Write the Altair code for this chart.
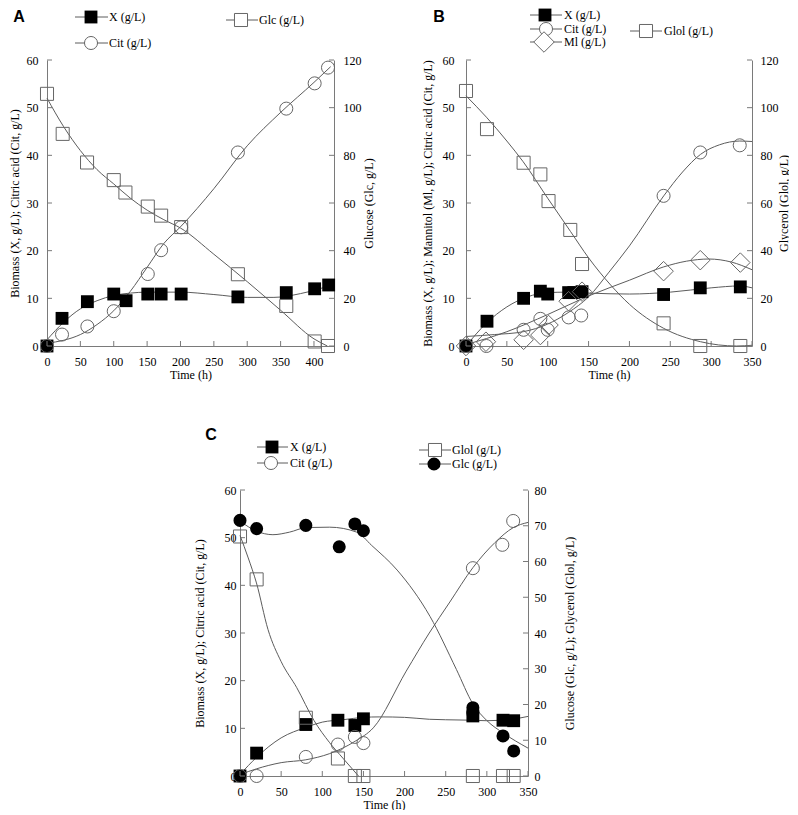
import altair as alt
import pandas as pd

# ---------------- data ----------------
# Panel A (glucose)
A_X_t = [0, 22.5, 60.5, 100, 118.5, 151, 171, 201, 286, 358.5, 401, 422]
A_X_v = [0, 5.8, 9.3, 10.9, 9.5, 10.9, 10.9, 10.9, 10.3, 11.2, 12.0, 12.8]
A_Cit_t = [0, 22.5, 60.5, 100, 151, 171, 201, 286, 358.5, 401, 421]
A_Cit_v = [0, 2.4, 4.1, 7.3, 15.1, 20.1, 24.9, 40.6, 49.8, 55.1, 58.4]
A_Glc_t = [0, 23.5, 60, 100, 117.5, 151, 171, 201, 286, 358.5, 401, 421]
A_Glc_v = [105.8, 89, 77, 69.6, 64.4, 58.5, 54.7, 49.9, 30.1, 16.8, 1.9, 0]
A_Xfit_t = [0, 25, 50, 75, 100, 125, 150, 200, 250, 300, 340, 380, 425]
A_Xfit_v = [1.3, 5, 7.8, 9.5, 10.6, 11.1, 11.3, 11.3, 10.8, 10.2, 10.2, 11, 12.7]
A_Citfit_t = [0, 25, 50, 75, 100, 125, 150, 175, 200, 250, 300, 350, 400, 425]
A_Citfit_v = [0.6, 1.2, 2.4, 4.5, 7.4, 11.5, 16.5, 21.5, 25, 33, 42, 49, 55.3, 58.6]
A_Glcfit_t = [0, 25, 50, 75, 100, 125, 150, 175, 200, 250, 300, 350, 400, 420]
A_Glcfit_v = [104, 92, 82, 74, 68, 62, 57, 53, 49.5, 38.5, 27, 15, 3, 0]

# Panel B (glycerol)
B_X_t = [0, 25.7, 70.5, 91, 100, 125.6, 132, 142, 241.8, 286.7, 335.7]
B_X_v = [0, 5.2, 10.0, 11.5, 10.9, 11.2, 11.2, 11.4, 10.8, 12.2, 12.4]
B_Cit_t = [0, 25, 70.5, 91, 100, 125.6, 141, 241.8, 286.7, 335]
B_Cit_v = [0, 0, 3.4, 5.7, 3.4, 6.0, 6.4, 31.5, 40.6, 42.1]
B_Ml_t = [0, 24.4, 70.5, 91, 101, 125.6, 142, 241.8, 286.7, 335.7]
B_Ml_v = [0, 0.9, 1.3, 2.3, 4.4, 9.4, 11.4, 15.7, 18.0, 17.5]
B_Glol_t = [0, 25.7, 70.5, 91, 101, 127.6, 142, 241.8, 286.7, 335.7]
B_Glol_v = [107, 91, 76.9, 72, 60.8, 48.7, 34.4, 9.5, 0, 0]
B_Xfit_t = [0, 25, 50, 75, 100, 125, 150, 200, 250, 300, 335, 350]
B_Xfit_v = [0, 4.8, 8.2, 10.3, 11.2, 11.3, 11.1, 10.9, 11.3, 12.2, 12.6, 12.2]
B_Citfit_t = [0, 35, 70, 100, 125, 150, 175, 200, 242, 265, 287, 310, 335, 350]
B_Citfit_v = [2.0, 2.4, 3.0, 4.6, 7.0, 10.3, 15.5, 21, 31.5, 36.5, 40.2, 42.2, 43, 42.9]
B_Mlfit_t = [0, 50, 100, 150, 200, 242, 270, 297, 325, 350]
B_Mlfit_v = [0.3, 3, 6.6, 10.5, 13.8, 16.6, 17.8, 18.25, 17.6, 16.0]
B_Glolfit_t = [0, 25, 50, 70, 100, 128, 150, 177, 200, 242, 287, 331, 350]
B_Glolfit_v = [105, 96, 86, 77.3, 62, 48, 37, 25.6, 17.5, 7.4, 1.8, 0, 0.3]

# Panel C (glucose + glycerol)
C_X_t = [0, 20.2, 80, 119, 139.6, 150, 283, 319.6, 332.6]
C_X_v = [0, 4.8, 10.8, 11.7, 10.6, 12.0, 12.6, 11.7, 11.6]
C_Cit_t = [0, 20.2, 80, 119, 139.6, 150, 283, 318.8, 332]
C_Cit_v = [0, 0, 4.0, 6.6, 8.2, 6.9, 43.6, 48.5, 53.5]
C_Glol_t = [0, 20.2, 80, 119, 139.6, 150, 283, 319.6, 332.6]
C_Glol_v = [67, 55, 16.3, 4.9, 0, 0, 0, 0, 0]
C_Glc_t = [0, 20.2, 80, 120.6, 139.6, 150, 283, 283, 319.6, 332.6]
C_Glc_v = [71.5, 69.2, 70.1, 64.1, 70.5, 68.6, 19.1, 17.6, 11.2, 7.0]
C_Xfit_t = [0, 20, 50, 80, 100, 125, 150, 170, 200, 230, 250, 283, 300, 330, 350]
C_Xfit_v = [0.3, 3.9, 8.0, 10.2, 11.3, 11.8, 12.3, 12.4, 12.3, 11.9, 11.8, 11.7, 11.6, 11.9, 12.5]
C_Citfit_t = [0, 20, 50, 80, 109, 140, 162, 202, 230, 255, 283, 310, 332, 350]
C_Citfit_v = [0.3, 1.5, 2.8, 3.4, 4.7, 7.3, 10.1, 22, 30, 36.5, 43.7, 49, 52.1, 53.2]
C_Glolfit_t = [0, 10, 20, 34, 50, 69, 90, 109, 125, 144]
C_Glolfit_v = [67.3, 61, 54, 41, 32, 24.7, 15.5, 9.3, 5, 0]
C_Glcfit_t = [0, 20, 40, 60, 81, 109, 142, 160, 191, 231, 263, 283, 300, 320, 350]
C_Glcfit_v = [71.3, 68.5, 67.5, 68.2, 69.5, 69.6, 68.2, 64.5, 57.6, 44.6, 29.8, 20.2, 15.5, 12, 7.8]

# axis ticks
A_x_ticks = [0, 50, 100, 150, 200, 250, 300, 350, 400]
BC_x_ticks = [0, 50, 100, 150, 200, 250, 300, 350]
left_ticks = [0, 10, 20, 30, 40, 50, 60]
AB_right_ticks = [0, 20, 40, 60, 80, 100, 120]
C_right_ticks = [0, 10, 20, 30, 40, 50, 60, 70, 80]

SERIF = "Liberation Serif"
LINE = "#5c5c5c"
AXIS = "#7a7a7a"
MK = "#666666"
H = 286


def df(t, v):
    return pd.DataFrame({"t": t, "v": v})


def one():
    return pd.DataFrame({"a": [0]})


def make_panel(width, xdom, xvals, rdom, rvals, ltitle, rtitle,
               lpad, ltpad, rpad, rtpad, left_series, right_series,
               legend, label, label_xy):
    xs = alt.Scale(domain=xdom, nice=False, zero=False)
    xax = alt.Axis(values=xvals, title="Time (h)", labelFlush=False, labelPadding=10,
                   titlePadding=2, labelOverlap=False)
    ls = alt.Scale(domain=[0, 60], nice=False)
    lax = alt.Axis(orient="left", values=left_ticks, title=ltitle, labelPadding=lpad,
                   titlePadding=ltpad, labelFlush=False, labelOverlap=False)
    rs = alt.Scale(domain=rdom, nice=False)
    rax = alt.Axis(orient="right", values=rvals, title=rtitle, labelPadding=rpad,
                   titlePadding=rtpad, titleAngle=270, titleBaseline="top",
                   labelFlush=False, labelOverlap=False)

    def group(series, scale, axis, tickvals, tick_x0, tick_x1, extra):
        layers = []
        for s in series:
            layers.append(
                alt.Chart(df(*s["fit"])).mark_line(color=LINE, strokeWidth=1,
                                                    interpolate="monotone")
                .encode(x=alt.X("t:Q", scale=xs, axis=xax),
                        y=alt.Y("v:Q", scale=scale, axis=axis), order="t:Q"))
        for s in series:
            if s["filled"]:
                m = alt.Chart(df(*s["pt"])).mark_point(shape=s["shape"], filled=True,
                                                       color="black", opacity=1,
                                                       size=s["size"])
            else:
                m = alt.Chart(df(*s["pt"])).mark_point(shape=s["shape"], filled=False,
                                                       color=MK, opacity=1, strokeWidth=1,
                                                       size=s["size"])
            layers.append(m.encode(x=alt.X("t:Q", scale=xs, axis=xax),
                                   y=alt.Y("v:Q", scale=scale, axis=axis)))
        # inward ticks
        layers.append(
            alt.Chart(pd.DataFrame({"v": tickvals})).mark_rule(color=AXIS, strokeWidth=1)
            .encode(y=alt.Y("v:Q", scale=scale, axis=axis),
                    x=alt.value(tick_x0), x2=alt.value(tick_x1)))
        layers.extend(extra)
        return alt.layer(*layers)

    extra = [
        alt.Chart(pd.DataFrame({"t": xvals})).mark_rule(color=AXIS, strokeWidth=1)
        .encode(x=alt.X("t:Q", scale=xs, axis=xax), y=alt.value(H), y2=alt.value(H - 5))
    ]
    # legend
    for (txt, shape, filled, size, y, x1, x2, xm, xt) in legend:
        extra.append(alt.Chart(one()).mark_rule(color=LINE, strokeWidth=1)
                     .encode(x=alt.value(x1), x2=alt.value(x2), y=alt.value(y)))
        if filled:
            mk = alt.Chart(one()).mark_point(shape=shape, filled=True, color="black",
                                             opacity=1, size=size)
        else:
            mk = alt.Chart(one()).mark_point(shape=shape, filled=True, fill="white",
                                             stroke=MK, strokeWidth=1, opacity=1, size=size)
        extra.append(mk.encode(x=alt.value(xm), y=alt.value(y)))
        extra.append(alt.Chart(one()).mark_text(text=txt, font=SERIF, fontSize=12,
                                                align="left", baseline="middle",
                                                color="black")
                     .encode(x=alt.value(xt), y=alt.value(y)))
    extra.append(alt.Chart(one()).mark_text(text=label, font="Liberation Sans",
                                            fontWeight="bold", fontSize=16,
                                            align="center", baseline="middle",
                                            color="black")
                 .encode(x=alt.value(label_xy[0]), y=alt.value(label_xy[1])))

    left = group(left_series, ls, lax, left_ticks, 0, 5, extra)
    right = group(right_series, rs, rax, rvals, width, width - 5, [])
    return alt.layer(left, right).resolve_scale(y="independent").properties(
        width=width, height=H)


panelA = make_panel(
    287, [0, 430], A_x_ticks, [0, 120], AB_right_ticks,
    "Biomass (X, g/L); Citric acid (Cit, g/L)", "Glucose (Glc, g/L)",
    9, 5, 9, 2,
    [dict(pt=(A_X_t, A_X_v), fit=(A_Xfit_t, A_Xfit_v), shape="square", filled=True, size=165),
     dict(pt=(A_Cit_t, A_Cit_v), fit=(A_Citfit_t, A_Citfit_v), shape="circle", filled=False, size=170)],
    [dict(pt=(A_Glc_t, A_Glc_v), fit=(A_Glcfit_t, A_Glcfit_v), shape="square", filled=False, size=170)],
    [("X (g/L)", "square", True, 165, -43, 28, 61, 44, 62),
     ("Cit (g/L)", "circle", False, 170, -17, 28, 61, 44, 62),
     ("Glc (g/L)", "square", False, 170, -40, 179, 211, 194, 212)],
    "A", (-28, -43))

panelB = make_panel(
    286, [0, 350], BC_x_ticks, [0, 120], AB_right_ticks,
    "Biomass (X, g/L); Mannitol (Ml, g/L); Citric acid (Cit, g/L)", "Glycerol (Glol, g/L)",
    12, 8, 8, 0,
    [dict(pt=(B_X_t, B_X_v), fit=(B_Xfit_t, B_Xfit_v), shape="square", filled=True, size=165),
     dict(pt=(B_Cit_t, B_Cit_v), fit=(B_Citfit_t, B_Citfit_v), shape="circle", filled=False, size=170),
     dict(pt=(B_Ml_t, B_Ml_v), fit=(B_Mlfit_t, B_Mlfit_v), shape="diamond", filled=False, size=380)],
    [dict(pt=(B_Glol_t, B_Glol_v), fit=(B_Glolfit_t, B_Glolfit_v), shape="square", filled=False, size=170)],
    [("X (g/L)", "square", True, 165, -45, 64, 96, 79, 98),
     ("Cit (g/L)", "circle", False, 170, -31, 64, 96, 80, 98),
     ("Ml (g/L)", "diamond", False, 420, -18, 64, 96, 78, 98),
     ("Glol (g/L)", "square", False, 170, -29, 164, 196, 180, 198)],
    "B", (-27, -43))

panelC = make_panel(
    288, [0, 350], BC_x_ticks, [0, 80], C_right_ticks,
    "Biomass (X, g/L); Citric acid (Cit, g/L)", "Glucose (Glc, g/L); Glycerol (Glol, g/L)",
    4, 18, 6, 18,
    [dict(pt=(C_X_t, C_X_v), fit=(C_Xfit_t, C_Xfit_v), shape="square", filled=True, size=165),
     dict(pt=(C_Cit_t, C_Cit_v), fit=(C_Citfit_t, C_Citfit_v), shape="circle", filled=False, size=170)],
    [dict(pt=(C_Glol_t, C_Glol_v), fit=(C_Glolfit_t, C_Glolfit_v), shape="square", filled=False, size=170),
     dict(pt=(C_Glc_t, C_Glc_v), fit=(C_Glcfit_t, C_Glcfit_v), shape="circle", filled=True, size=170)],
    [("X (g/L)", "square", True, 165, -43, 17, 48, 32, 50),
     ("Cit (g/L)", "circle", False, 170, -27, 17, 48, 31, 50),
     ("Glol (g/L)", "square", False, 170, -40, 179, 211, 195, 212),
     ("Glc (g/L)", "circle", True, 170, -26, 179, 211, 194, 212)],
    "C", (-29, -55))

spacer = alt.Chart(one()).mark_point(opacity=0).encode(
    x=alt.value(0), y=alt.value(0)).properties(width=146, height=10)

top = alt.hconcat(panelA, panelB, spacing=47)
bottom = alt.hconcat(spacer, panelC, spacing=0)

chart = alt.vconcat(top, bottom, spacing=47).properties(
    padding=0
).configure_view(stroke=None).configure_axis(
    domainColor=AXIS, ticks=False, tickSize=0, grid=False,
    labelFont=SERIF, labelFontSize=12, labelColor="black",
    titleFont=SERIF, titleFontSize=12, titleFontWeight="normal", titleColor="black"
)

chart.save("out.html", embed_options={"renderer": "svg", "actions": False})
